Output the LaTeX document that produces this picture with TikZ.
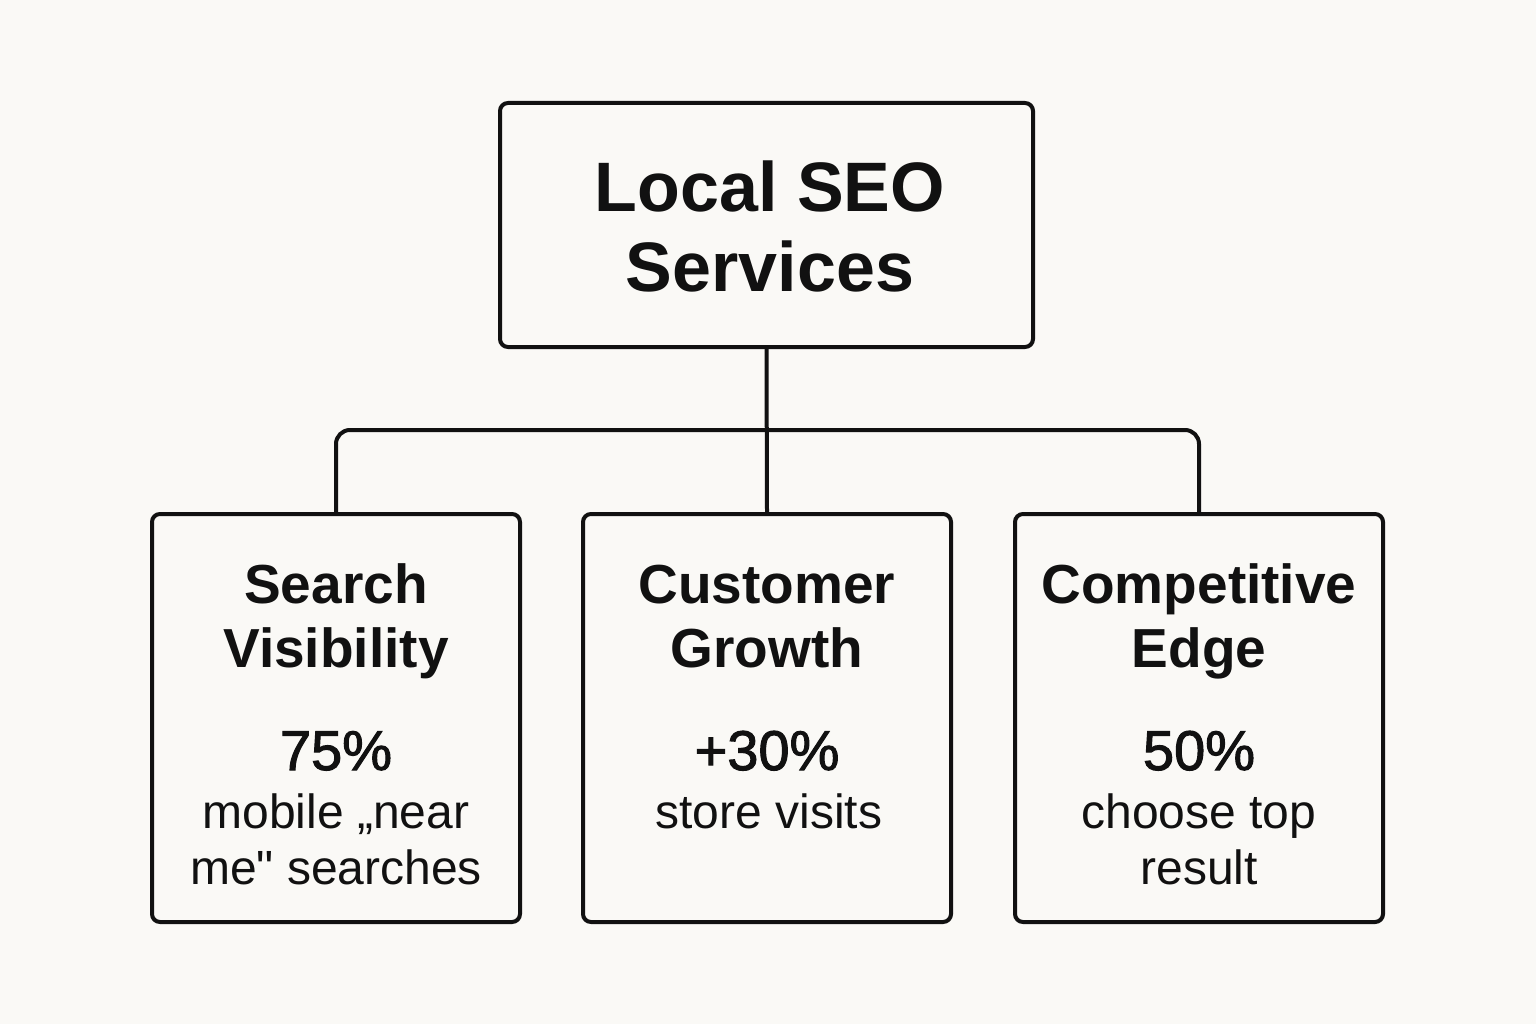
\documentclass[tikz,border=0pt]{standalone}
\usepackage{fontspec}
\setmainfont{Liberation Sans}
\newfontfamily\numfont[FakeBold=1.8]{Liberation Sans}
\newfontfamily\bodyfont{Liberation Sans}
\definecolor{bg}{HTML}{FAF9F6}
\definecolor{ink}{HTML}{111111}
\begin{document}
\begin{tikzpicture}[x=1pt,y=-1pt,
  box/.style={draw=ink, line width=4pt, rounded corners=8pt, inner sep=0pt},
  conn/.style={draw=ink, line width=4pt},
  ttl/.style={font=\bfseries\fontsize{70}{70}\selectfont, text=ink, anchor=base, inner sep=0pt},
  head/.style={font=\bfseries\fontsize{55}{55}\selectfont, text=ink, anchor=base, inner sep=0pt},
  num/.style={font=\numfont\fontsize{56}{56}\selectfont, text=ink, anchor=base, inner sep=0pt},
  body/.style={font=\bodyfont\fontsize{48}{48}\selectfont, text=ink, anchor=base, inner sep=0pt}]
\fill[bg] (0,0) rectangle (1536,1024);
\useasboundingbox (0,0) rectangle (1536,1024);

\node[box, minimum width=533pt, minimum height=244pt] (top) at (766.5,225) {};
\node[box, minimum width=368pt, minimum height=408pt] (left) at (336,718) {};
\node[box, minimum width=368pt, minimum height=408pt] (mid) at (767,718) {};
\node[box, minimum width=368pt, minimum height=408pt] (right) at (1199,718) {};

\coordinate (bus) at (767,430);
\draw[conn] (top.south) -- (mid.north);
\draw[conn, rounded corners=14pt] (left.north) |- (bus) -| (right.north);

\node[ttl] (t1) at (770,212) {Local SEO};
\node[ttl] (t2) at (770,291) {Services};

\node[head] (l1) at (336,603) {Search};
\node[head] (l2) at (336,667) {Visibility};
\node[num] (l3) at (336,770) {75\%};
\node[body] (l4) at (336,828) {mobile „near};
\node[body] (l5) at (336,884) {me" searches};

\node[head] (m1) at (767,603) {Customer};
\node[head] (m2) at (767,667) {Growth};
\node[num] (m3) at (767,770) {+30\%};
\node[body] (m4) at (769,828) {store visits};

\node[head] (r1) at (1199,603) {Competitive};
\node[head] (r2) at (1199,667) {Edge};
\node[num] (r3) at (1199,770) {50\%};
\node[body] (r4) at (1199,828) {choose top};
\node[body] (r5) at (1199,884) {result};
\end{tikzpicture}
\end{document}
